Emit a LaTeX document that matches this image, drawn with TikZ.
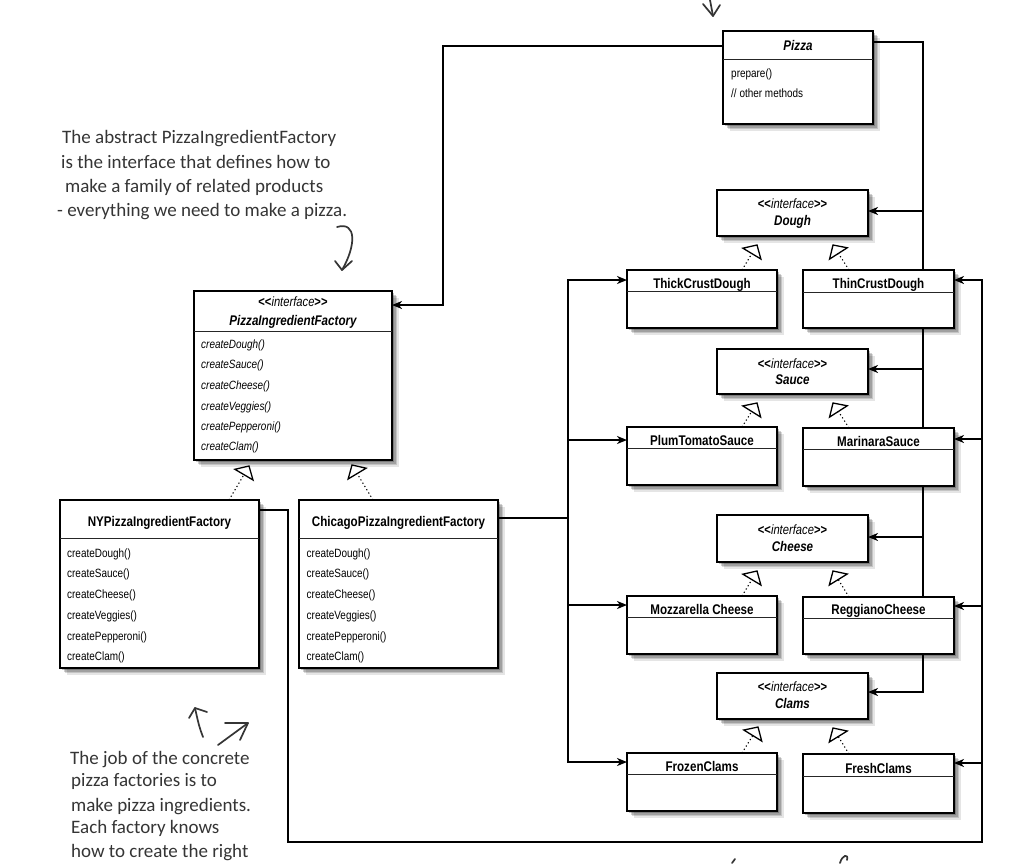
\documentclass[tikz,border=0pt]{standalone}
\usepackage{fontspec}
\newfontfamily\umlfont[FakeStretch=0.83]{Liberation Sans}
\newfontfamily\handfont{Carlito}
\usetikzlibrary{arrows.meta,shadows,calc}
\pgfdeclarelayer{paper}
\pgfdeclarelayer{bg}
\pgfsetlayers{paper,bg,main}
\definecolor{handgray}{HTML}{353535}
\tikzset{
  shd/.style={drop shadow={shadow xshift=7pt,shadow yshift=-7pt,opacity=.10,fill=black},
              drop shadow={shadow xshift=5pt,shadow yshift=-5pt,opacity=.14,fill=black},
              drop shadow={shadow xshift=3.5pt,shadow yshift=-3.5pt,opacity=.18,fill=black},
              drop shadow={shadow xshift=2pt,shadow yshift=-2pt,opacity=.22,fill=black}},
  umlbox/.style={draw=black, line width=1.2pt, fill=white, inner sep=0pt, outer sep=0pt, shd},
  divline/.style={draw=black!85, line width=0.9pt},
  ttl/.style={font=\umlfont\fontsize{14}{16}\selectfont\bfseries, inner sep=0pt, anchor=base},
  ittl/.style={font=\umlfont\fontsize{14}{16}\selectfont\bfseries\itshape, inner sep=0pt, anchor=base},
  stereo/.style={font=\umlfont\fontsize{13.5}{15}\selectfont, inner sep=0pt, anchor=base},
  meth/.style={font=\umlfont\fontsize{12}{14}\selectfont, inner sep=0pt, anchor=base west},
  imeth/.style={font=\umlfont\fontsize{12}{14}\selectfont\itshape, inner sep=0pt, anchor=base west},
  conn/.style={line width=2pt, draw=black},
  arr/.style={conn, -{Stealth[length=10pt,width=8pt,inset=3pt]}},
  dots/.style={line width=1.1pt, dash pattern=on 1.2pt off 2.6pt},
  tri/.style={draw=black, fill=white, line width=1.3pt, line join=miter},
  handtxt/.style={font=\handfont\fontsize{19}{22}\selectfont, text=handgray, anchor=base west, inner sep=0pt},
  handln/.style={draw=handgray, line width=1.7pt, line cap=round, line join=round}
}
% name, x, y, width, height, divider y
\newcommand\mkcls[6]{%
  \node[umlbox, anchor=north west, minimum width=#4, minimum height=#5] (#1) at (#2,#3) {};
  \draw[divline] (#1.west |- 0,#6) -- (#1.east |- 0,#6);}
% name, x, y, width, height
\newcommand\mkint[5]{%
  \node[umlbox, anchor=north west, minimum width=#4, minimum height=#5] (#1) at (#2,#3) {};}
\newcommand\stt{\textbf{<\kern0pt<}\textit{interface}\textbf{>\kern0pt>}}
% realization: start coordinate spec, tip coordinate name
\newcommand\realize[2]{%
  \coordinate (rS) at (#1);
  \coordinate (rB) at ($(#2)!10pt!(rS)$);
  \draw[dots] (rS) -- (rB);
  \draw[tri] ($(rB)!10.5pt!90:(#2)$) -- (#2) -- ($(rB)!10.5pt!-90:(#2)$) -- cycle;}

\begin{document}
\begin{tikzpicture}[x=1pt,y=-1pt]
\useasboundingbox (0,0) rectangle (1024,863);
\begin{pgfonlayer}{paper}
\fill[white] (0,0) rectangle (1024,863);
\end{pgfonlayer}

% ---------------- boxes ----------------
\mkcls{pizza}{723}{31}{150}{93}{59}
\mkcls{pif}{194}{291}{198}{169}{331}
\mkcls{ny}{60}{500}{199}{168}{538}
\mkcls{chi}{299}{500}{199}{168}{538}
\mkint{dough}{717}{190}{151}{46}
\mkcls{thick}{627}{270}{150}{58}{291}
\mkcls{thin}{803}{270}{151}{58}{292}
\mkint{sauce}{717}{349}{151}{45}
\mkcls{plum}{627}{427}{150}{58}{448}
\mkcls{marinara}{803}{428}{151}{58}{449}
\mkint{cheese}{717}{515}{151}{47}
\mkcls{mozz}{627}{596}{150}{58}{617}
\mkcls{reggiano}{803}{597}{151}{57}{618}
\mkint{clams}{717}{673}{151}{46}
\mkcls{frozen}{627}{753}{150}{58}{774}
\mkcls{fresh}{803}{754}{151}{59}{776}

% ---------------- texts ----------------
\node[ittl] (pizzaT) at (798,50) {Pizza};
\node[meth] (pizzaM1) at (731,77.3) {prepare()};
\node[meth] (pizzaM2) at (731,97.3) {// other methods};

\node[stereo] (pifS) at (293,306.5) {\stt};
\node[ittl] (pifT) at (293,325) {PizzaIngredientFactory};
\node[imeth] (pifM1) at (201,348.3) {createDough()};
\node[imeth] (pifM2) at (201,368.3) {createSauce()};
\node[imeth] (pifM3) at (201,389.8) {createCheese()};
\node[imeth] (pifM4) at (201,410.8) {createVeggies()};
\node[imeth] (pifM5) at (201,430.8) {createPepperoni()};
\node[imeth] (pifM6) at (201,450.8) {createClam()};

\node[ttl] (nyT) at (159.5,526) {NYPizzaIngredientFactory};
\node[meth] (nyM1) at (67,557.3) {createDough()};
\node[meth] (nyM2) at (67,577.6) {createSauce()};
\node[meth] (nyM3) at (67,598.3) {createCheese()};
\node[meth] (nyM4) at (67,619.8) {createVeggies()};
\node[meth] (nyM5) at (67,640.3) {createPepperoni()};
\node[meth] (nyM6) at (67,660) {createClam()};

\node[ttl] (chiT) at (398.5,526) {ChicagoPizzaIngredientFactory};
\node[meth] (chiM1) at (306.5,557.3) {createDough()};
\node[meth] (chiM2) at (306.5,577.6) {createSauce()};
\node[meth] (chiM3) at (306.5,598.3) {createCheese()};
\node[meth] (chiM4) at (306.5,619.8) {createVeggies()};
\node[meth] (chiM5) at (306.5,640.3) {createPepperoni()};
\node[meth] (chiM6) at (306.5,660) {createClam()};

\node[stereo] (doughS) at (792.5,208.5) {\stt};
\node[ittl] (doughT) at (792.5,225) {Dough};
\node[stereo] (sauceS) at (792.5,368) {\stt};
\node[ittl] (sauceT) at (792.5,384.3) {Sauce};
\node[stereo] (cheeseS) at (792.5,534.8) {\stt};
\node[ittl] (cheeseT) at (792.5,551) {Cheese};
\node[stereo] (clamsS) at (792.5,691.5) {\stt};
\node[ittl] (clamsT) at (792.5,708.3) {Clams};

\node[ttl] (thickT) at (702,288) {ThickCrustDough};
\node[ttl] (thinT) at (878.5,288) {ThinCrustDough};
\node[ttl] (plumT) at (702,445) {PlumTomatoSauce};
\node[ttl] (marinaraT) at (878.5,446) {MarinaraSauce};
\node[ttl] (mozzT) at (702,614) {Mozzarella Cheese};
\node[ttl] (reggianoT) at (878.5,614) {ReggianoCheese};
\node[ttl] (frozenT) at (702,771.7) {FrozenClams};
\node[ttl] (freshT) at (878.5,773.3) {FreshClams};

% ---------------- associations (behind boxes) ----------------
\begin{pgfonlayer}{bg}
\draw[arr] (pizza.west |- 0,46) -| (443,305) -- (pif.east |- 0,305);
\draw[arr] (pizza.east |- 0,42) -| (923,692) -- (clams.east |- 0,692);
\draw[arr] (923,211) -- (dough.east |- 0,211);
\draw[arr] (923,369) -- (sauce.east |- 0,369);
\draw[arr] (923,537) -- (cheese.east |- 0,537);

\draw[conn] (chi.east |- 0,518) -- (568,518);
\draw[arr] (568,518) |- (thick.west |- 0,280);
\draw[arr] (568,518) |- (frozen.west |- 0,762);
\draw[arr] (568,440) -- (plum.west |- 0,440);
\draw[arr] (568,605) -- (mozz.west |- 0,605);

\draw[arr] (ny.east |- 0,510) -| (288,842) -| (982,280) -- (thin.east |- 0,280);
\draw[arr] (982,439) -- (marinara.east |- 0,439);
\draw[arr] (982,606) -- (reggiano.east |- 0,606);
\draw[arr] (982,763) -- (fresh.east |- 0,763);
\end{pgfonlayer}

% ---------------- realizations ----------------
\coordinate (tNY) at (249,466);
\coordinate (tChi) at (352,465);
\coordinate (tDL) at (757,245); \coordinate (tDR) at (833,245);
\coordinate (tSL) at (757,403); \coordinate (tSR) at (833,403);
\coordinate (tCL) at (757,571); \coordinate (tCR) at (833,571);
\coordinate (tKL) at (758,727); \coordinate (tKR) at (833,728);
\realize{ny.north -| 229,0}{tNY}
\realize{chi.north -| 373,0}{tChi}
\realize{thick.north -| 742,0}{tDL}
\realize{thin.north -| 849,0}{tDR}
\realize{plum.north -| 742,0}{tSL}
\realize{marinara.north -| 849,0}{tSR}
\realize{mozz.north -| 742,0}{tCL}
\realize{reggiano.north -| 849,0}{tCR}
\realize{frozen.north -| 742,0}{tKL}
\realize{fresh.north -| 849,0}{tKR}

% ---------------- handwritten notes ----------------
\node[handtxt] (n1a) at (62,143) {The abstract PizzaIngredientFactory};
\node[handtxt] (n1b) at (61,168) {is the interface that defines how to};
\node[handtxt] (n1c) at (65,192) {make a family of related products};
\node[handtxt] (n1d) at (57,216) {- everything we need to make a pizza.};
\coordinate (c1s) at (337,227);
\coordinate (c1e) at (342,270);
\draw[handln] (c1s) .. controls (357,221) and (356,246) .. (c1e);
\draw[handln] (335,261) -- (c1e) -- (352,261);

\node[handtxt] (n2a) at (70,764) {The job of the concrete};
\node[handtxt] (n2b) at (71,786) {pizza factories is to};
\node[handtxt] (n2c) at (71,811) {make pizza ingredients.};
\node[handtxt] (n2d) at (71,833) {Each factory knows};
\node[handtxt] (n2e) at (71,857) {how to create the right};
\coordinate (u1s) at (203,737); \coordinate (u1e) at (195,708);
\draw[handln] (u1s) .. controls (199,726) .. (u1e);
\draw[handln] (189,718) -- (u1e) -- (207,712);
\coordinate (u2s) at (218,745); \coordinate (u2e) at (248,723);
\draw[handln] (u2s) -- (u2e);
\draw[handln] (225,723) -- (u2e) -- (240,740);

% cut-off fragments of other notes
\draw[handln] (703,4) -- (713,16) -- (720,5);
\draw[handln] (710,0) -- (713,16);
\draw[handln] (732,863) -- (735,859);
\draw[handln] (840,863) .. controls (842,855) and (849,853) .. (847,860);
\end{tikzpicture}
\end{document}
